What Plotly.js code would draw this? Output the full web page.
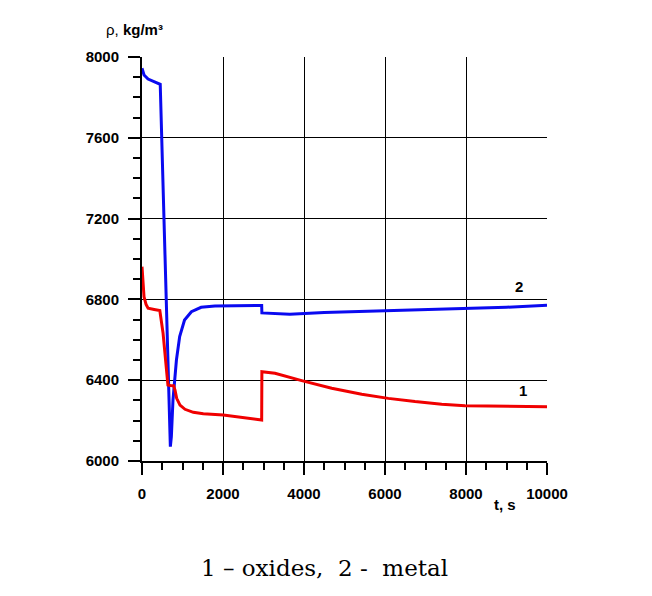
<!DOCTYPE html>
<html>
<head>
<meta charset="utf-8">
<script src="https://cdn.plot.ly/plotly-3.0.1.min.js"></script>
<style>html,body{margin:0;padding:0;background:#fff;}#chart{width:652px;height:596px;}</style>
</head>
<body>
<div id="chart"></div>
<script>
// Curve 2 - metal
const metalT = [0, 50, 150, 300, 450, 700, 725, 765, 850, 930, 1050, 1220, 1460, 1800, 2400, 2955, 2960, 3300, 3650, 4500, 6000, 8000, 9000, 10000];
const metalRho = [7944, 7911, 7891, 7877, 7865, 6071, 6120, 6302, 6500, 6616, 6698, 6739, 6761, 6767, 6770, 6770, 6733, 6729, 6727, 6735, 6743, 6752, 6761, 6771];
// Curve 1 - oxides
const oxideT = [0, 20, 50, 100, 150, 300, 440, 520, 600, 640, 700, 780, 815, 856, 938, 1062, 1267, 1514, 2007, 2501, 2955, 2960, 3284, 3943, 4684, 5425, 6082, 6741, 7400, 7975, 9000, 10000];
const oxideRho = [6962, 6870, 6813, 6775, 6756, 6750, 6745, 6633, 6467, 6376, 6374, 6373, 6351, 6310, 6277, 6256, 6241, 6234, 6228, 6216, 6203, 6442, 6434, 6398, 6360, 6330, 6310, 6294, 6281, 6274, 6271, 6268];
const xTicks = [0, 2000, 4000, 6000, 8000, 10000];
const yTicks = [6000, 6400, 6800, 7200, 7600, 8000];
const curveLabels = ["1", "2"];
const caption = "1 \u2013 oxides,  2 -  metal";

const tickFont = {family: "Liberation Sans, Arial, sans-serif", size: 15, color: "#000", weight: 700};

const traces = [
  {x: metalT, y: metalRho, mode: "lines", line: {color: "#0a0af0", width: 3}, hoverinfo: "skip"},
  {x: oxideT, y: oxideRho, mode: "lines", line: {color: "#f00000", width: 3}, hoverinfo: "skip"}
];

const layout = {
  width: 652, height: 596,
  margin: {l: 142, r: 105, t: 57, b: 135},
  paper_bgcolor: "#fff", plot_bgcolor: "#fff",
  showlegend: false,
  xaxis: {
    range: [0, 10000], tickvals: xTicks, ticktext: xTicks.map(String),
    showgrid: true, gridcolor: "#000", gridwidth: 1,
    showline: true, linecolor: "#000", linewidth: 2,
    ticks: "outside", ticklen: 12, tickwidth: 2, tickcolor: "#000",
    ticklabelstandoff: 6,
    tickfont: tickFont, zeroline: false, fixedrange: true,
    minor: {dtick: 500, tick0: 0, ticks: "outside", ticklen: 7, tickwidth: 2, tickcolor: "#000", showgrid: false}
  },
  yaxis: {
    range: [6000, 8000], tickvals: yTicks, ticktext: yTicks.map(String),
    showgrid: true, gridcolor: "#000", gridwidth: 1,
    showline: true, linecolor: "#000", linewidth: 2,
    ticks: "outside", ticklen: 12, tickwidth: 2, tickcolor: "#000",
    ticklabelstandoff: 6,
    tickfont: tickFont, zeroline: false, fixedrange: true,
    minor: {dtick: 100, tick0: 0, ticks: "outside", ticklen: 7, tickwidth: 2, tickcolor: "#000", showgrid: false}
  },
  annotations: [
    {xref: "paper", yref: "paper", x: -0.095, y: 1.067, xanchor: "left", yanchor: "middle", showarrow: false,
     text: "\u03c1, <b>kg/m\u00b3</b>", font: {family: "Liberation Sans, Arial, sans-serif", size: 15, color: "#000"}},
    {xref: "paper", yref: "paper", x: 0.896, y: -0.108, xanchor: "center", yanchor: "middle", showarrow: false,
     text: "<b>t, s</b>", font: {family: "Liberation Sans, Arial, sans-serif", size: 15, color: "#000"}},
    {xref: "x", yref: "y", x: 9310, y: 6866, showarrow: false, text: "<b>" + curveLabels[1] + "</b>",
     font: {family: "Liberation Sans, Arial, sans-serif", size: 15, color: "#000"}},
    {xref: "x", yref: "y", x: 9410, y: 6351, showarrow: false, text: "<b>" + curveLabels[0] + "</b>",
     font: {family: "Liberation Sans, Arial, sans-serif", size: 15, color: "#000"}},
    {xref: "paper", yref: "paper", x: 0.451, y: -0.265, xanchor: "center", yanchor: "middle", showarrow: false,
     text: caption, font: {family: "DejaVu Serif, serif", size: 23, color: "#000"}}
  ]
};

Plotly.newPlot("chart", traces, layout, {displayModeBar: false, staticPlot: true});
</script>
</body>
</html>
